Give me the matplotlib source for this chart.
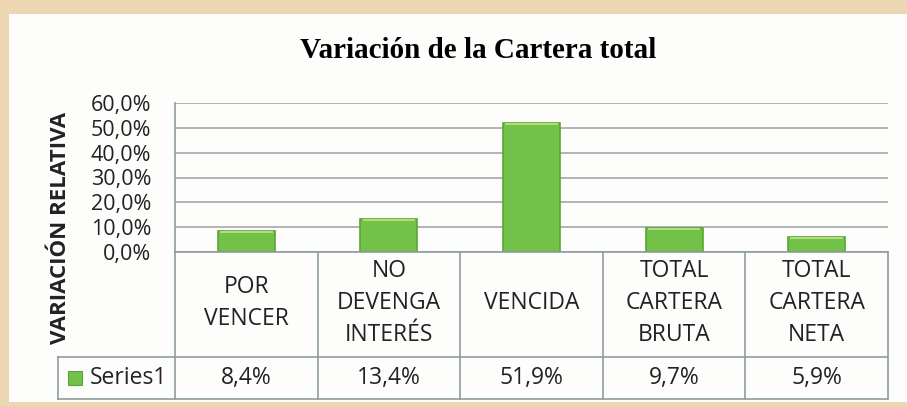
import matplotlib
matplotlib.use("Agg")
import matplotlib.pyplot as plt
from matplotlib.patches import Rectangle

categorias = ["POR\nVENCER", "NO\nDEVENGA\nINTERÉS", "VENCIDA", "TOTAL\nCARTERA\nBRUTA", "TOTAL\nCARTERA\nNETA"]
valores = [8.4, 13.4, 51.9, 9.7, 5.9]
serie = "Series1"
yticks = [0, 10, 20, 30, 40, 50, 60]

W, H = 907, 407
fuente = "Open Sans"
verde = "#72c148"
borde_verde = "#5aa535"
gris = "#a4a8a8"
linea_tabla = "#8f9ca0"
texto = "#222222"

fig = plt.figure(figsize=(W / 100, H / 100), dpi=100)
fig.patch.set_facecolor("#ecd7b2")
# panel blanco interior
fig.patches.append(Rectangle((9 / W, 5 / H), 1 - 9 / W, 1 - 19 / H, transform=fig.transFigure,
                             facecolor="#fdfefc", edgecolor="none", zorder=-10))

def px(x0, y0, x1, y1):
    return [x0 / W, 1 - y1 / H, (x1 - x0) / W, (y1 - y0) / H]

# grafico de barras
ax = fig.add_axes(px(175, 103, 888, 252))
ax.set_facecolor("none")
x = list(range(len(valores)))
ax.bar(x, valores, width=0.4, color=verde, edgecolor=borde_verde, linewidth=1.2, zorder=3)
ax.bar(x, [0.8] * len(valores), bottom=[v - 0.8 for v in valores], width=0.37,
       color="#b3dc7c", edgecolor="none", zorder=4)
ax.set_xlim(-0.5, len(valores) - 0.5)
ax.set_ylim(0, 60)
ax.set_yticks(yticks)
ax.set_yticklabels([f"{t:.1f}%".replace(".", ",") for t in yticks], fontfamily=fuente,
                   fontsize=15.5, color=texto)
ax.set_xticks([])
ax.tick_params(axis="y", length=0, pad=17)
ax.yaxis.grid(True, color=gris, linewidth=1.2)
ax.set_axisbelow(True)
for s in ["top", "right", "bottom"]:
    ax.spines[s].set_visible(False)
ax.spines["left"].set_color(linea_tabla)
ax.spines["left"].set_linewidth(1.2)

# tabla de datos
leg_w = (175 - 58) / ((888 - 175) / len(valores))
tab = fig.add_axes(px(58, 252, 888, 399))
tab.set_xlim(-0.5 - leg_w, len(valores) - 0.5)
tab.set_ylim(0, 1)
tab.axis("off")
fila = 42 / 147
kw = dict(color=linea_tabla, linewidth=1.2, clip_on=False)
tab.plot([-0.5, len(valores) - 0.5], [1, 1], **kw)
tab.plot([-0.5 - leg_w, len(valores) - 0.5], [fila, fila], **kw)
tab.plot([-0.5 - leg_w, len(valores) - 0.5], [0, 0], **kw)
tab.plot([-0.5 - leg_w, -0.5 - leg_w], [0, fila], **kw)
for i in range(len(valores) + 1):
    tab.plot([i - 0.5, i - 0.5], [0, 1], **kw)
for i, (c, v) in enumerate(zip(categorias, valores)):
    tab.text(i, (1 + fila) / 2 + 0.01, c, ha="center", va="center", fontfamily=fuente,
             fontsize=16.5, linespacing=1.45, color=texto)
    tab.text(i, fila / 2, f"{v:.1f}%".replace(".", ","), ha="center", va="center",
             fontfamily=fuente, fontsize=16.5, color=texto)
tab.add_patch(Rectangle((-0.5 - leg_w + 0.07, fila / 2 - 0.045), 0.1, 0.09,
                        facecolor=verde, edgecolor=borde_verde, linewidth=0.8))
tab.text(-0.5 - leg_w + 0.22, fila / 2, serie, ha="left", va="center",
         fontfamily=fuente, fontsize=16.5, color=texto)

fig.text(478 / W, 1 - 51 / H, "Variación de la Cartera total", ha="center", va="center",
         fontfamily="Liberation Serif", fontweight="bold", fontsize=21)
fig.text(61 / W, 1 - 228 / H, "VARIACIÓN RELATIVA", rotation=90, ha="center", va="center",
         fontfamily=fuente, fontweight="bold", fontsize=16, color=texto)

fig.savefig("out.png", dpi=100, facecolor=fig.get_facecolor())
